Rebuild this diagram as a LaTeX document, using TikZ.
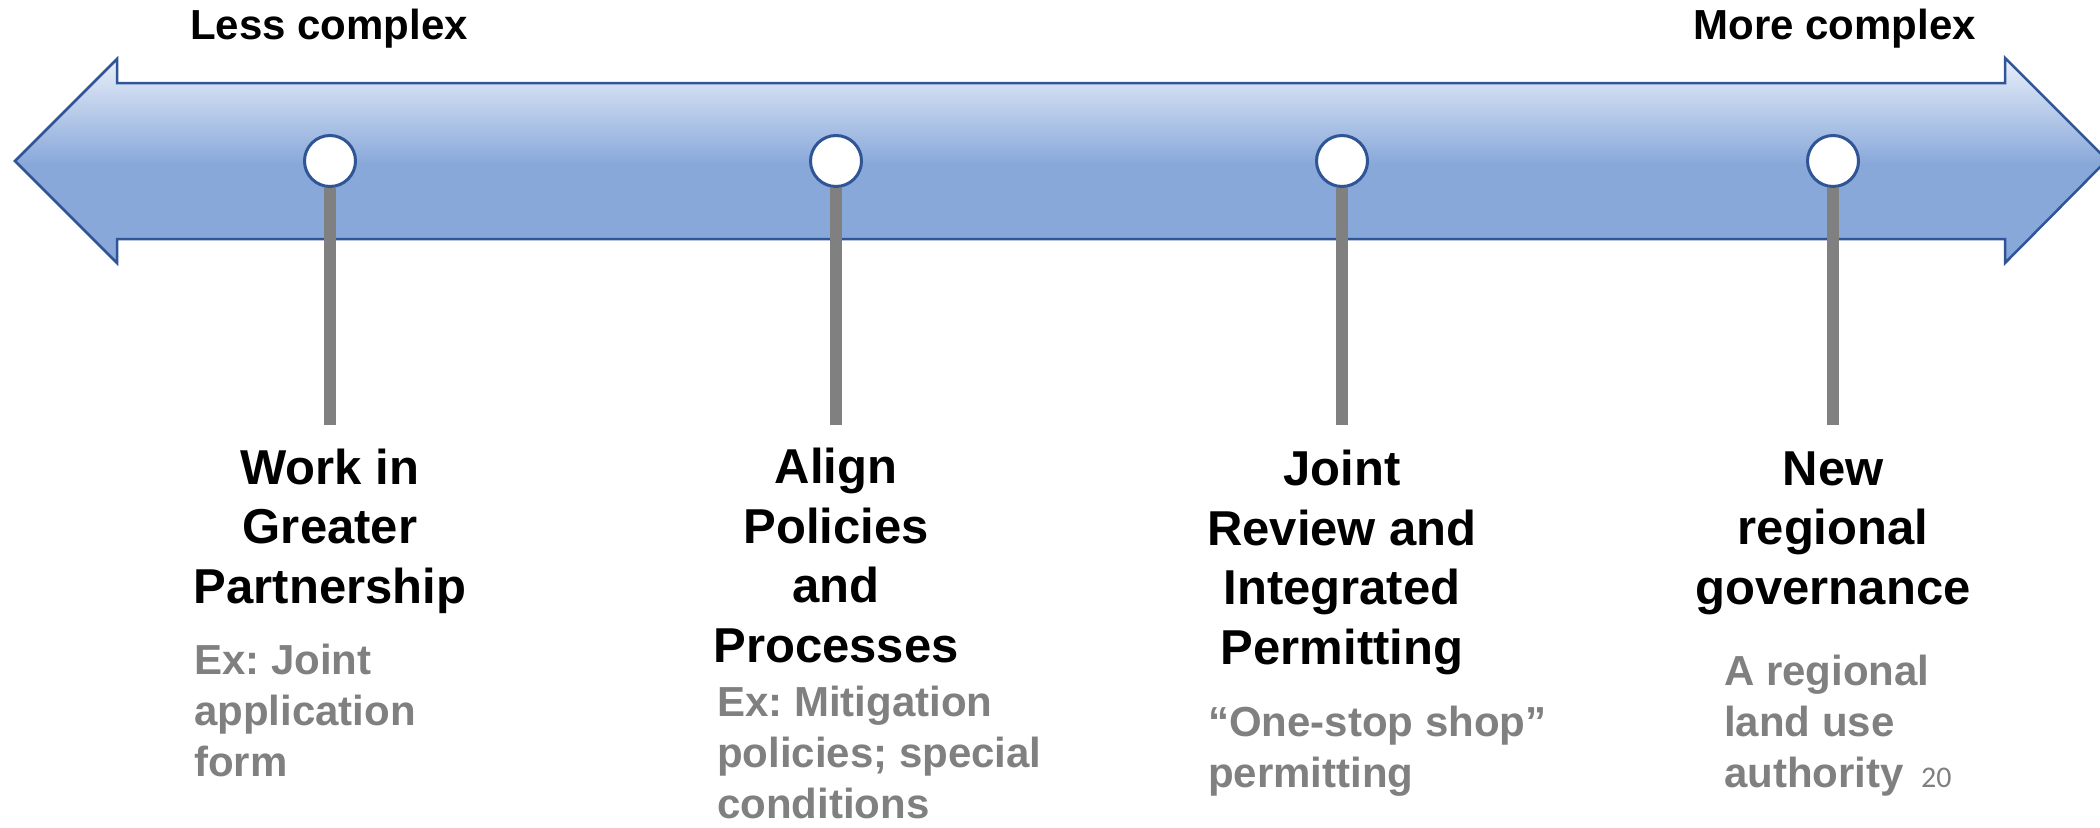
\documentclass[tikz,border=0pt]{standalone}
\usepackage{fontspec}
\setmainfont{Liberation Sans}
\newfontfamily\numfont{Carlito}
\frenchspacing

\definecolor{bandtop}{RGB}{233,239,249}
\definecolor{bandmid}{RGB}{136,168,218}
\definecolor{bandedge}{RGB}{47,85,151}
\definecolor{stemgray}{RGB}{128,128,128}
\definecolor{notegray}{RGB}{128,128,128}

% light top fading into the flat blue of the lower band
\pgfdeclareverticalshading{bandfill}{100bp}{color(0bp)=(bandmid); color(49bp)=(bandmid); color(75bp)=(bandtop); color(100bp)=(bandtop)}

\tikzset{
  dot/.style={circle, fill=white, draw=bandedge, line width=3pt, minimum size=51pt, inner sep=0pt},
  stem/.style={draw=stemgray, line width=12pt},
  head/.style={align=center, inner sep=0pt, font=\fontsize{49}{59.5}\selectfont\bfseries},
  note/.style={align=left, inner sep=0pt, text=notegray, font=\fontsize{42}{51}\selectfont\bfseries},
  endlabel/.style={inner sep=0pt, font=\fontsize{42}{50}\selectfont\bfseries},
}

\begin{document}
\begin{tikzpicture}[x=1pt,y=-1pt]
\useasboundingbox (0,0) rectangle (2100,827);

% double-headed band
\path[shade, shading=bandfill, draw=bandedge, line width=2.5pt, line join=miter]
  (15,161) -- (117,59) -- (117,83) -- (2005,83) -- (2005,58) -- (2107,160)
  -- (2005,263) -- (2005,239) -- (117,239) -- (117,263) -- cycle;

\node[endlabel, anchor=base west] (less) at (190,39) {Less complex};
\node[endlabel, anchor=base east] (more) at (1976,39) {More complex};

% stage markers
\node[dot] (d1) at (330,161) {};
\node[dot] (d2) at (836,161) {};
\node[dot] (d3) at (1342,161) {};
\node[dot] (d4) at (1833,161) {};

\coordinate (s1) at (330,425);
\coordinate (s2) at (836,425);
\coordinate (s3) at (1342,425);
\coordinate (s4) at (1833,425);

\draw[stem] (d1.south) -- (s1);
\draw[stem] (d2.south) -- (s2);
\draw[stem] (d3.south) -- (s3);
\draw[stem] (d4.south) -- (s4);

% stage titles (anchored on the baseline of their last line)
\node[head, anchor=base] (h1) at (330,603) {Work in\\Greater\\Partnership};
\node[head, anchor=base] (h2) at (836,662) {Align\\Policies\\and\\Processes};
\node[head, anchor=base] (h3) at (1342,664) {Joint\\Review and\\Integrated\\Permitting};
\node[head, anchor=base] (h4) at (1833,604) {New\\regional\\governance};

% examples
\node[note, anchor=base west] (n1) at (194,776) {Ex: Joint\\application\\form};
\node[note, anchor=base west] (n2) at (717,818) {Ex: Mitigation\\policies; special\\conditions};
\node[note, anchor=base west] (n3) at (1208,787) {“One-stop shop”\\permitting};
\node[note, anchor=base west] (n4) at (1724,787) {A regional\\land use\\authority};

\node[inner sep=0pt, anchor=base west, text=notegray, font=\numfont\fontsize{30}{36}\selectfont] (pg) at (1921,787) {20};
\end{tikzpicture}
\end{document}
